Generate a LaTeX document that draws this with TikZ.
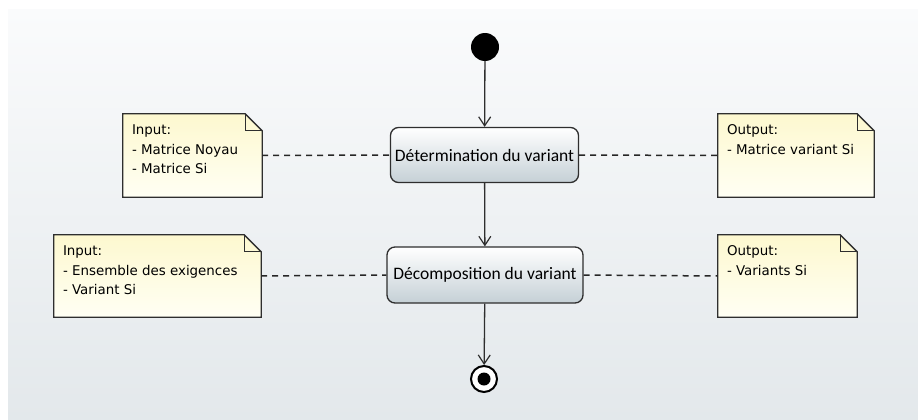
\documentclass[tikz,border=0pt]{standalone}
\usepackage{fontspec}
\setmainfont{DejaVu Sans}
\newfontfamily\boxfont{Carlito}
\usetikzlibrary{arrows.meta,calc}
\definecolor{bgtop}{HTML}{FAFBFC}
\definecolor{bgbot}{HTML}{E3E8EB}
\definecolor{notetop}{HTML}{FDF8CF}
\definecolor{notebot}{HTML}{FFFFF4}
\definecolor{acttop}{HTML}{FFFFFF}
\definecolor{actbot}{HTML}{C5D0D6}
\definecolor{linec}{HTML}{2E2E2E}
\tikzset{
  actbox/.style={rounded corners=8pt, draw=linec, line width=1.3pt,
    top color=acttop, bottom color=actbot, inner sep=0pt,
    font=\boxfont\fontsize{17.5}{20}\selectfont, text=black},
  notebox/.style={draw=none, inner sep=0pt},
  notetext/.style={anchor=north west, inner sep=0pt, align=left,
    font=\fontsize{13.4}{19.5}\selectfont, text=black},
  flow/.style={draw=linec, line width=1.3pt,
    -{Straight Barb[length=9pt,width=12pt,line width=1.2pt]}},
  tie/.style={draw=black!85, line width=1.5pt, dash pattern=on 6pt off 5pt},
}
\newcommand{\notefold}[1]{%
  \shade[top color=notetop, bottom color=notebot]
    (#1.north west) -- ([xshift=-17pt]#1.north east) -- ([yshift=-17pt]#1.north east)
    -- (#1.south east) -- (#1.south west) -- cycle;
  \draw[linec, line width=1.3pt, line join=miter]
    (#1.north west) -- ([xshift=-17pt]#1.north east) -- ([yshift=-17pt]#1.north east)
    -- (#1.south east) -- (#1.south west) -- cycle;
  \draw[linec, line width=1.2pt]
    ([xshift=-17pt]#1.north east) -- ([xshift=-17pt,yshift=-17pt]#1.north east)
    -- ([yshift=-17pt]#1.north east);
}
\begin{document}
\begin{tikzpicture}[x=1pt,y=-1pt]
\useasboundingbox (0,0) rectangle (918,420);
\fill[white] (0,0) rectangle (918,420);
\shade[top color=bgtop, bottom color=bgbot] (8,10) rectangle (918,420);

% activity nodes
\node[circle, fill=black, minimum size=28pt, inner sep=0pt] (start) at (485,47) {};
\node[actbox, minimum width=188pt, minimum height=55pt] (act1) at (484.5,155) {Détermination du variant};
\node[actbox, minimum width=196pt, minimum height=56pt] (act2) at (485,275) {Décomposition du variant};
\node[circle, draw=black, line width=2pt, fill=white, minimum size=26pt, inner sep=0pt] (end) at (484,379) {};
\fill[black] (end.center) circle (6.5pt);

% notes
\node[notebox, minimum width=139pt, minimum height=83pt] (in1) at (192.5,155.5) {};
\node[notebox, minimum width=156pt, minimum height=83pt] (out1) at (796,155.5) {};
\node[notebox, minimum width=207pt, minimum height=82pt] (in2) at (157.5,276) {};
\node[notebox, minimum width=139pt, minimum height=82pt] (out2) at (787.5,276) {};
\notefold{in1}
\notefold{out1}
\notefold{in2}
\notefold{out2}
\node[notetext] (in1t) at ([xshift=9pt,yshift=-11pt]in1.north west) {Input:\\- Matrice Noyau\\- Matrice Si};
\node[notetext] (out1t) at ([xshift=9pt,yshift=-11pt]out1.north west) {Output:\\- Matrice variant Si};
\node[notetext] (in2t) at ([xshift=9pt,yshift=-11pt]in2.north west) {Input:\\- Ensemble des exigences\\- Variant Si};
\node[notetext] (out2t) at ([xshift=9pt,yshift=-11pt]out2.north west) {Output:\\- Variants Si};

% connectors
\draw[flow] (start) -- (act1);
\draw[flow] (act1) -- (act2);
\draw[flow] (act2) -- (end);
\draw[tie] (in1.east) -- (act1.west);
\draw[tie] (act1.east) -- (out1.west);
\draw[tie] (in2.east) -- (act2.west);
\draw[tie] (act2.east) -- (out2.west);
\end{tikzpicture}
\end{document}
